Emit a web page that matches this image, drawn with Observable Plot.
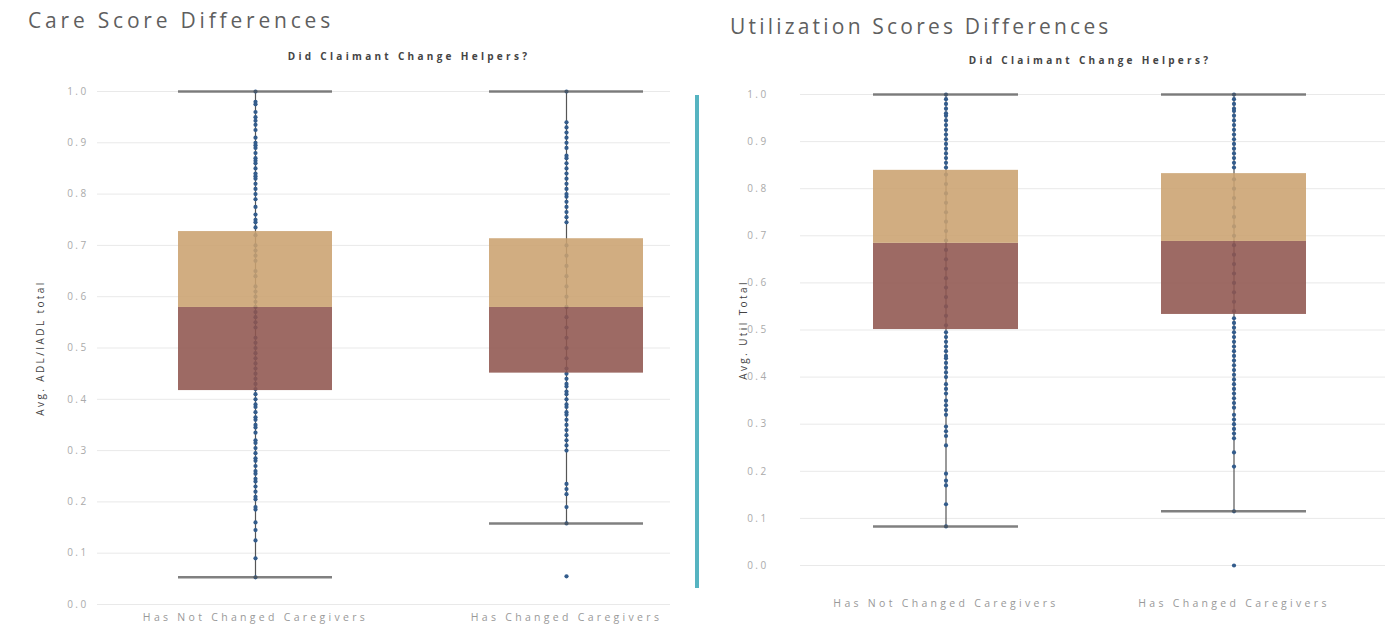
<!DOCTYPE html>
<html><head><meta charset="utf-8">
<script src="https://cdn.jsdelivr.net/npm/d3@7"></script>
<script src="https://cdn.jsdelivr.net/npm/@observablehq/plot@0.6"></script>
<style>
body{margin:0;width:1392px;height:625px;overflow:hidden;background:#fff;position:relative;font-family:"Open Sans",sans-serif}
.title{position:absolute;font-size:21px;color:#5f5f5f;white-space:nowrap;line-height:1}
.sub{position:absolute;font-size:10px;font-weight:bold;color:#444;letter-spacing:3.3px;white-space:nowrap;transform:translateX(-50%);line-height:1}
.panel{position:absolute;top:70px}
.divider{position:absolute;left:695px;top:95px;width:4px;height:493px;background:#56b4c1}
svg text{letter-spacing:2.4px}
</style></head><body>
<div class="title" id="t1" style="left:28px;top:10px;letter-spacing:3.8px"></div>
<div class="sub" id="s1" style="left:409px;top:51px"></div>
<div class="title" id="t2" style="left:730px;top:16px;letter-spacing:3.2px"></div>
<div class="sub" id="s2" style="left:1090px;top:55px"></div>
<div class="divider"></div>
<div class="panel" id="p1" style="left:0px"></div>
<div class="panel" id="p2" style="left:700px"></div>
<script>
const titles = ["Care Score Differences", "Utilization Scores Differences"];
const subtitle = "Did Claimant Change Helpers?";
const categories = ["Has Not Changed Caregivers", "Has Changed Caregivers"];
const yTicks = [0, 0.1, 0.2, 0.3, 0.4, 0.5, 0.6, 0.7, 0.8, 0.9, 1.0];
const careLabel = "Avg. ADL/IADL total";
const utilLabel = "Avg. Util Total";

// Care score points
const careNotChanged = [1.0, 0.98, 0.975, 0.96, 0.95, 0.943, 0.935, 0.925, 0.91, 0.90, 0.895, 0.89, 0.88, 0.87, 0.865, 0.86, 0.85, 0.84, 0.835, 0.83, 0.82, 0.81, 0.80, 0.79, 0.775, 0.76, 0.75, 0.745, 0.735,
  0.72, 0.70, 0.69, 0.68, 0.67, 0.65, 0.64, 0.62, 0.61, 0.60, 0.59, 0.58, 0.57, 0.56, 0.55, 0.54, 0.52, 0.51, 0.50, 0.49, 0.48, 0.47, 0.46, 0.45, 0.44, 0.43, 0.42,
  0.41, 0.40, 0.39, 0.385, 0.375, 0.365, 0.36, 0.35, 0.345, 0.335, 0.32, 0.315, 0.305, 0.295, 0.285, 0.28, 0.27, 0.26, 0.255, 0.245, 0.24, 0.23, 0.22, 0.21, 0.205, 0.19, 0.185, 0.16, 0.145, 0.125, 0.09, 0.053];
const careChanged = [1.0, 0.94, 0.93, 0.92, 0.91, 0.90, 0.89, 0.875, 0.87, 0.86, 0.85, 0.84, 0.83, 0.82, 0.81, 0.80, 0.795, 0.785, 0.775, 0.765, 0.755, 0.745,
  0.70, 0.68, 0.66, 0.64, 0.62, 0.60, 0.58, 0.56, 0.54, 0.52, 0.50, 0.48, 0.46,
  0.45, 0.44, 0.43, 0.425, 0.415, 0.41, 0.40, 0.39, 0.385, 0.375, 0.37, 0.36, 0.35, 0.34, 0.33, 0.32, 0.31, 0.30, 0.235, 0.225, 0.215, 0.19, 0.158, 0.055];
// Utilization score points
const utilNotChanged = [1.0, 0.99, 0.98, 0.97, 0.96, 0.955, 0.945, 0.935, 0.925, 0.915, 0.905, 0.895, 0.885, 0.875, 0.865, 0.855, 0.845,
  0.83, 0.81, 0.79, 0.77, 0.75, 0.73, 0.71, 0.69, 0.67, 0.65, 0.63, 0.61, 0.59, 0.57, 0.55, 0.53, 0.51,
  0.495, 0.485, 0.475, 0.465, 0.455, 0.445, 0.44, 0.43, 0.42, 0.41, 0.40, 0.385, 0.375, 0.365, 0.35, 0.34, 0.33, 0.32, 0.295, 0.285, 0.275, 0.255, 0.195, 0.18, 0.17, 0.13, 0.083];
const utilChanged = [1.0, 0.99, 0.98, 0.97, 0.965, 0.955, 0.945, 0.935, 0.925, 0.915, 0.905, 0.895, 0.885, 0.875, 0.865, 0.855, 0.845,
  0.82, 0.80, 0.78, 0.76, 0.74, 0.72, 0.70, 0.68, 0.66, 0.64, 0.62, 0.60, 0.58, 0.56, 0.54,
  0.525, 0.515, 0.505, 0.495, 0.485, 0.475, 0.465, 0.455, 0.445, 0.435, 0.425, 0.415, 0.405, 0.395, 0.385, 0.375, 0.365, 0.355, 0.345, 0.335, 0.32, 0.31, 0.30, 0.29, 0.28, 0.27, 0.24, 0.21, 0.115, 0.0];

// Box statistics per category [Not Changed, Changed]
const careLow = [0.053, 0.158];
const careQ1 = [0.417, 0.451];
const careMedian = [0.579, 0.579];
const careQ3 = [0.727, 0.713];
const careHigh = [1.0, 1.0];
const utilLow = [0.083, 0.115];
const utilQ1 = [0.501, 0.533];
const utilMedian = [0.684, 0.688];
const utilQ3 = [0.839, 0.832];
const utilHigh = [1.0, 1.0];

document.getElementById("t1").textContent = titles[0];
document.getElementById("t2").textContent = titles[1];
document.getElementById("s1").textContent = subtitle;
document.getElementById("s2").textContent = subtitle;

function stats(lo, q1, med, q3, hi) {
  return categories.map((c, i) => ({cat: c, lo: lo[i], q1: q1[i], med: med[i], q3: q3[i], hi: hi[i]}));
}
function pts(a, b) {
  return [...a.map(v => ({cat: categories[0], v})), ...b.map(v => ({cat: categories[1], v}))];
}

function chart(o) {
  return Plot.plot({
    width: o.width, height: 555,
    marginTop: o.mt, marginBottom: o.mb, marginLeft: o.ml, marginRight: o.mr,
    style: {fontFamily: "Open Sans", fontSize: "10px", background: "transparent"},
    x: {type: "band", domain: categories, range: o.xr, paddingInner: o.pi, paddingOuter: 0},
    y: {domain: [0, 1]},
    marks: [
      Plot.gridY(yTicks, {stroke: "#e9e9e9", strokeOpacity: 1}),
      Plot.axisY(yTicks, {tickFormat: d3.format(".1f"), tickSize: 0, tickPadding: o.tp, color: "#aaa", label: null}),
      Plot.axisX({tickSize: 0, tickPadding: o.xp, color: "#999", fontSize: 10.5, label: null}),
      Plot.text([o.label], {text: d => d, frameAnchor: "left", textAnchor: "middle", rotate: -90, dx: -57, fontSize: 10, fill: "#444"}),
      Plot.ruleX(o.stats, {x: "cat", y1: "lo", y2: "hi", stroke: "#555", strokeWidth: 1.2}),
      Plot.dot(o.points, {x: "cat", y: "v", r: 2.1, fill: "#335c8c", stroke: null}),
      Plot.barY(o.stats, {x: "cat", y1: "q1", y2: "med", fill: "#8f554e", fillOpacity: 0.88}),
      Plot.barY(o.stats, {x: "cat", y1: "med", y2: "q3", fill: "#cba26f", fillOpacity: 0.88}),
      Plot.tickY(o.stats, {x: "cat", y: "lo", stroke: "#555", strokeOpacity: 0.75, strokeWidth: 2.5}),
      Plot.tickY(o.stats, {x: "cat", y: "hi", stroke: "#555", strokeOpacity: 0.75, strokeWidth: 2.5})
    ]
  });
}

document.getElementById("p1").append(chart({
  width: 690, mt: 21, mb: 21, ml: 97, mr: 20, xr: [178, 643], pi: 0.505, tp: 9, xp: 9,
  label: careLabel,
  stats: stats(careLow, careQ1, careMedian, careQ3, careHigh),
  points: pts(careNotChanged, careChanged)
}));
document.getElementById("p2").append(chart({
  width: 692, mt: 24, mb: 60, ml: 100, mr: 7, xr: [172, 606], pi: 0.498, tp: 32, xp: 34,
  label: utilLabel,
  stats: stats(utilLow, utilQ1, utilMedian, utilQ3, utilHigh),
  points: pts(utilNotChanged, utilChanged)
}));
// x-axis labels are more widely spaced than tick labels
document.querySelectorAll("svg [aria-label='x-axis tick label'] text").forEach(t => t.style.letterSpacing = "3.3px");
</script>
</body></html>
